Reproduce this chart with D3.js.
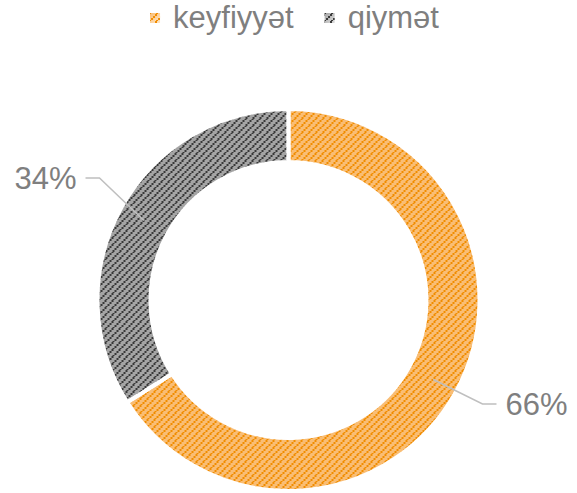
<!DOCTYPE html>
<html>
<head>
<meta charset="utf-8">
<script src="https://cdn.jsdelivr.net/npm/d3@7"></script>
<style>
  html, body { margin: 0; padding: 0; background: #ffffff; }
  svg { display: block; }
  text { font-family: "Liberation Sans", Arial, sans-serif; fill: #7f7f7f; }
</style>
</head>
<body>
<svg id="chart" width="577" height="493"></svg>
<script>
// ---- data ----
const categories = ["keyfiyyət", "qiymət"];
const values = [66, 34];
const valueLabels = ["66%", "34%"];

// ---- styling (not data) ----
const stripeColors = ["#f08c00", "#383838"];
const lightColors = ["#ffe7c8", "#dcdcdc"];
const edgeColors = ["#f9bd74", "#a4a4a4"];

const cx = 288.5, cy = 300, outerR = 191, innerR = 138;
const fontSize = 31;

const svg = d3.select("#chart");
const defs = svg.append("defs");

categories.forEach((c, i) => {
  const g = defs.append("radialGradient")
    .attr("id", "grad" + i)
    .attr("gradientUnits", "userSpaceOnUse")
    .attr("cx", cx).attr("cy", cy).attr("r", outerR);
  g.append("stop").attr("offset", innerR / outerR).attr("stop-color", edgeColors[i]);
  g.append("stop").attr("offset", (innerR / outerR + 1) / 2 - 0.02).attr("stop-color", lightColors[i]);
  g.append("stop").attr("offset", 1).attr("stop-color", edgeColors[i]);

  const p = defs.append("pattern")
    .attr("id", "pat" + i)
    .attr("patternUnits", "userSpaceOnUse")
    .attr("width", 7).attr("height", 7);
  // staircase diagonal with a 1px step gap
  [[5, 0], [3, 2], [1, 4], [-1, 6], [6, 6]].forEach(([x, y]) => {
    p.append("rect").attr("x", x).attr("y", y).attr("width", 2).attr("height", 2)
      .attr("fill", stripeColors[i]);
  });
  const lg = defs.append("linearGradient").attr("id", "lgrad" + i)
    .attr("x1", 0).attr("y1", 0).attr("x2", 1).attr("y2", 1);
  lg.append("stop").attr("offset", 0).attr("stop-color", edgeColors[i]);
  lg.append("stop").attr("offset", 1).attr("stop-color", lightColors[i]);
});

const pie = d3.pie().sort(null).value(d => d)(values);
const arc = d3.arc().innerRadius(innerR).outerRadius(outerR);

const g = svg.append("g").attr("transform", `translate(${cx},${cy})`);

g.selectAll("path.base").data(pie).join("path")
  .attr("class", "base")
  .attr("d", arc)
  .attr("fill", (d, i) => `url(#grad${i})`);

g.selectAll("path.pat").data(pie).join("path")
  .attr("class", "pat")
  .attr("d", arc)
  .attr("fill", (d, i) => `url(#pat${i})`)
  .attr("stroke", "#ffffff")
  .attr("stroke-width", 4)
  .attr("stroke-linejoin", "miter");

// ---- data labels with leader lines ----
const midArc = d3.arc().innerRadius(165).outerRadius(165);
const elbows = [[194, 104], [-189, -122]];
const sides = [1, -1];
pie.forEach((d, i) => {
  const [sx, sy] = midArc.centroid(d);
  const [ex, ey] = elbows[i];
  const hx = ex + sides[i] * 14;
  g.append("polyline")
    .attr("points", `${sx},${sy} ${ex},${ey} ${hx},${ey}`)
    .attr("fill", "none")
    .attr("stroke", "#bfbfbf")
    .attr("stroke-width", 1.5);
  g.append("text")
    .attr("x", hx + sides[i] * 9)
    .attr("y", ey)
    .attr("dy", "0.36em")
    .attr("text-anchor", sides[i] > 0 ? "start" : "end")
    .style("font-size", fontSize + "px")
    .text(valueLabels[i]);
});

// ---- legend ----
const legend = svg.append("g");
let x = 0;
categories.forEach((c, i) => {
  const it = legend.append("g");
  it.append("rect").attr("x", x).attr("y", 13).attr("width", 10).attr("height", 10)
    .attr("fill", `url(#lgrad${i})`);
  it.append("rect").attr("x", x).attr("y", 13).attr("width", 10).attr("height", 10)
    .attr("fill", `url(#pat${i})`);
  const t = it.append("text").attr("x", x + 23).attr("y", 28)
    .style("font-size", fontSize + "px").text(c);
  x += 23 + t.node().getComputedTextLength() + 31;
});
const totalW = x - 31;
legend.attr("transform", `translate(${294.5 - totalW / 2},0)`);
</script>
</body>
</html>
